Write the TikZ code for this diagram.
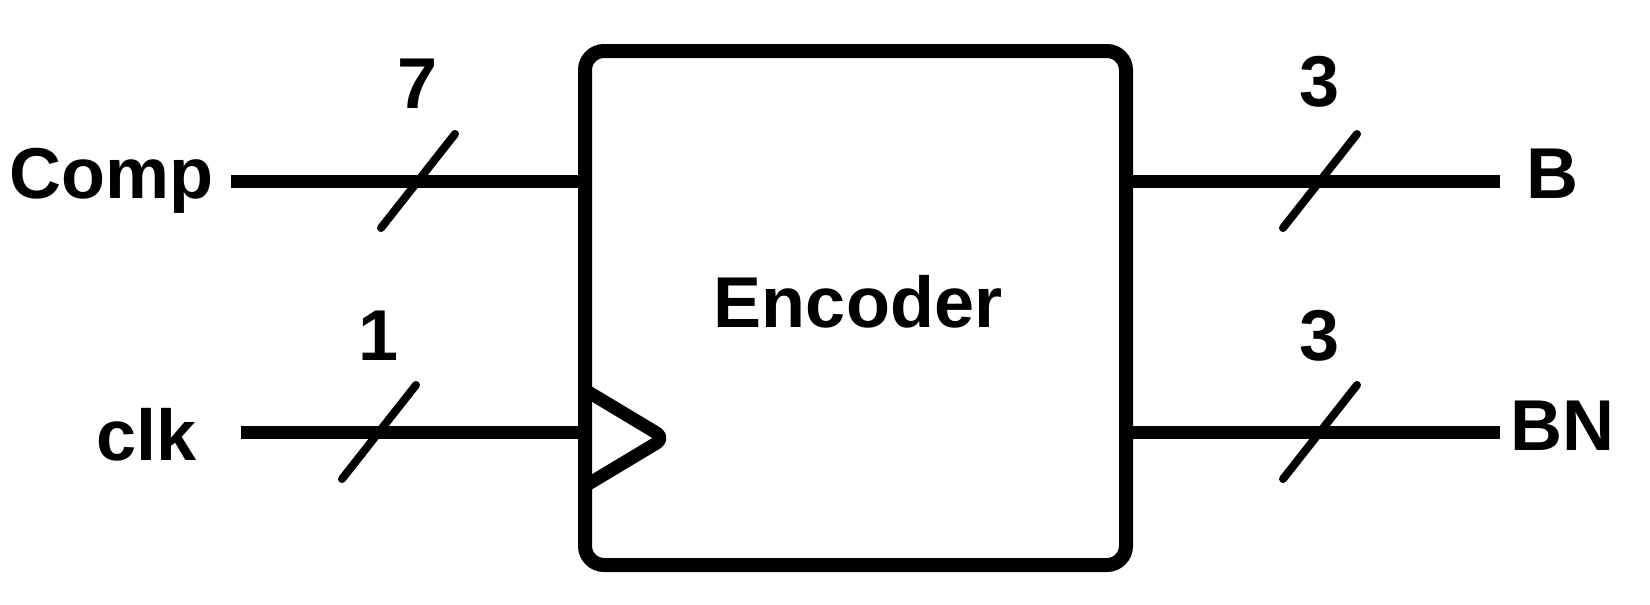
\documentclass[tikz,border=0pt]{standalone}
\usepackage{fontspec}
\setmainfont{Liberation Sans}
\usetikzlibrary{calc}
\begin{document}
\begin{tikzpicture}[x=0.5pt,y=-0.5pt,
  lbl/.style={font=\bfseries\fontsize{36pt}{40pt}\selectfont, inner sep=0pt},
  wire/.style={line width=6.5pt},
  bus/.style={line width=4pt, line cap=round},
  blockbox/.style={draw, line width=7pt, rounded corners=9.5pt, inner sep=0pt, outer sep=0pt,
    minimum width=270.5pt, minimum height=257pt}]
\useasboundingbox (0,0) rectangle (1650,605);
% block
\node[blockbox] (enc) at (855.5,308) {};
\node[lbl, anchor=base] (enctxt) at (858,327) {Encoder};
% clock triangle
\draw[line width=6.5pt, line join=round, rounded corners=5pt] (enc.west |- 0,390) coordinate (tri1) -- (665,438) coordinate (tri2) -- (enc.west |- 0,486) coordinate (tri3);
% labels
\node[lbl, anchor=base east] (comp) at (214,198) {Comp};
\node[lbl, anchor=base east] (clk) at (197,460) {clk};
\node[lbl, anchor=base west] (b) at (1526,198) {B};
\node[lbl, anchor=base west] (bn) at (1510,450) {BN};
% wire ends
\coordinate (cin) at (231,181);
\coordinate (kin) at (241,432);
\coordinate (bout) at (1500,181);
\coordinate (bnout) at (1500,432);
\draw[wire] (cin) -- (enc.west |- cin);
\draw[wire] (kin) -- (enc.west |- kin);
\draw[wire] (enc.east |- bout) -- (bout);
\draw[wire] (enc.east |- bnout) -- (bnout);
% bus slashes
\coordinate (s1) at (418,181);
\coordinate (s2) at (379,432);
\coordinate (s3) at (1320,181);
\coordinate (s4) at (1320,432);
\foreach \s in {s1,s2,s3,s4}{
  \draw[bus] ($(\s)+(-37,47)$) -- ($(\s)+(37,-47)$);
}
\node[lbl, anchor=base] (n1) at ($(s1)+(0,-73)$) {7};
\node[lbl, anchor=base] (n2) at ($(s2)+(0,-72)$) {1};
\node[lbl, anchor=base] (n3) at ($(s3)+(0,-75)$) {3};
\node[lbl, anchor=base] (n4) at ($(s4)+(0,-72)$) {3};
\end{tikzpicture}
\end{document}
